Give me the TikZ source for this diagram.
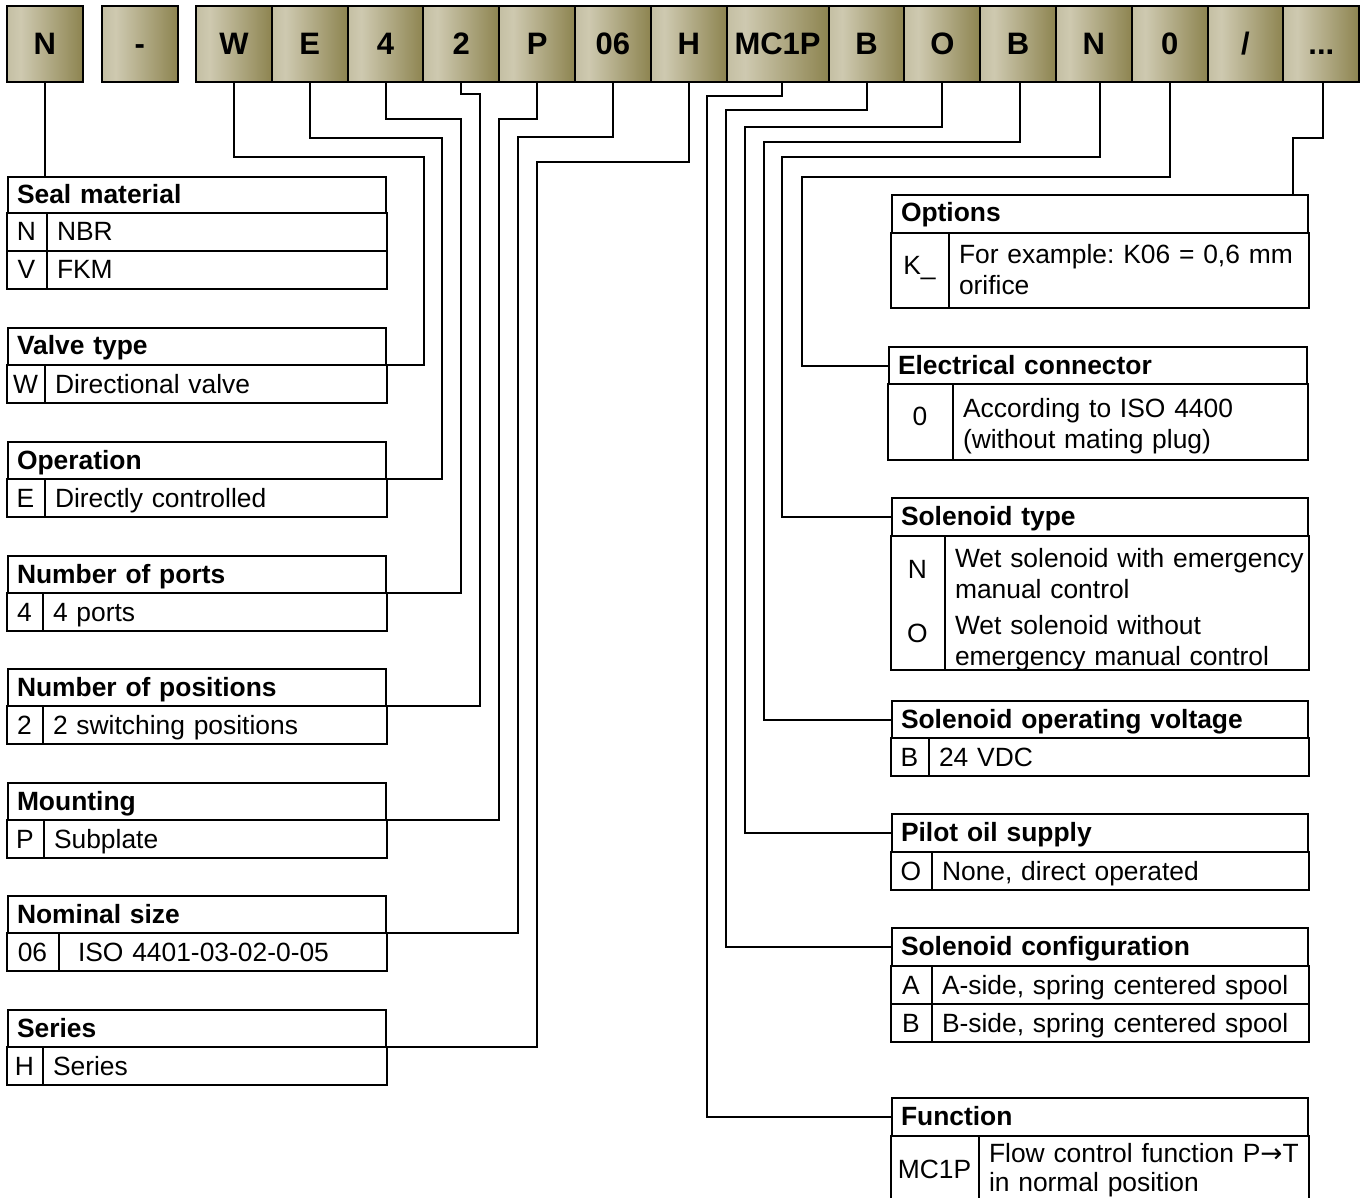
\documentclass[tikz,border=0pt]{standalone}
\usepackage{fontspec}
\setmainfont{Liberation Sans}
\newfontfamily\arrowfont{DejaVu Sans}
\usepackage{tikz}
\usetikzlibrary{positioning, shapes.multipart}

\definecolor{khakiL}{RGB}{196,191,163}
\definecolor{khakiM}{RGB}{206,201,176}
\definecolor{khakiD}{RGB}{141,132,80}
\pgfdeclarehorizontalshading{codeshade}{100bp}{color(0bp)=(khakiL); color(25bp)=(khakiL); color(34bp)=(khakiM); color(75bp)=(khakiD); color(100bp)=(khakiD)}

\newcommand{\codefont}{\fontsize{31}{31}\selectfont\bfseries}
\newcommand{\tabfont}{\fontsize{26.4}{31}\selectfont\frenchspacing}
% centred key letter, strut for one-line rows
\newcommand{\key}[1]{\hbox to\hsize{\hss#1\hss}}
\newcommand{\rowstrut}{\rule[-10pt]{0pt}{38pt}}

\begin{document}
\begin{tikzpicture}[
  x=1pt, y=-1pt,
  line width=2pt,
  codebox/.style={
    draw,
    shade,
    shading=codeshade,
    minimum width=#1,
    minimum height=76pt,
    inner sep=0pt,
    outer sep=0pt,
    text height=22pt,
    text depth=0pt,
    font=\codefont
    },
  codebox/.default=75.8pt,
  headbox/.style={
    draw,
    anchor=north west,
    outer sep=0pt,
    inner xsep=9pt,
    inner ysep=0pt,
    text width=#1,
    text height=27pt,
    text depth=10pt,
    font=\tabfont\bfseries
    },
  headbox/.default=360pt,
  rowbox/.style={
    draw,
    rectangle split,
    rectangle split horizontal,
    rectangle split parts=2,
    outer sep=0pt,
    inner xsep=9pt,
    inner ysep=0pt,
    text height=28pt,
    text depth=10pt,
    font=\tabfont
    }
]
\useasboundingbox (0,0) rectangle (1363,1198);

% type code
\node[codebox, anchor=north west] (bN) at (7,6) {N};
\node[codebox, anchor=north west] (bdash) at (102,6) {-};
\node[codebox, anchor=north west] (bW) at (196,6) {W};
\node[codebox, right=0pt of bW] (bE) {E};
\node[codebox, right=0pt of bE] (b4) {4};
\node[codebox, right=0pt of b4] (b2) {2};
\node[codebox, right=0pt of b2] (bP) {P};
\node[codebox, right=0pt of bP] (b06) {06};
\node[codebox, right=0pt of b06] (bH) {H};
\node[codebox=102pt, right=0pt of bH] (bMC) {MC1P};
\node[codebox, right=0pt of bMC] (bB) {B};
\node[codebox, right=0pt of bB] (bO) {O};
\node[codebox, right=0pt of bO] (bBv) {B};
\node[codebox, right=0pt of bBv] (bNs) {N};
\node[codebox, right=0pt of bNs] (b0) {0};
\node[codebox, right=0pt of b0] (bslash) {/};
\node[codebox, right=0pt of bslash] (bdots) {...};

% left tables
\node[headbox, text depth=9pt] (sealhdr) at (8,177) {Seal material};
\node[rowbox, below=0pt of sealhdr] (sealrowA)
  {
  \nodepart[text width=21pt]{one}\key{N}
  \nodepart[text width=321pt]{two}\rowstrut NBR
  };
\node[rowbox, below=0pt of sealrowA] (sealrowB)
  {
  \nodepart[text width=21pt]{one}\key{V}
  \nodepart[text width=321pt]{two}\rowstrut FKM
  };

\node[headbox] (valvehdr) at (8,328) {Valve type};
\node[rowbox, below=0pt of valvehdr] (valverow)
  {
  \nodepart[text width=19pt]{one}\key{W}
  \nodepart[text width=323pt]{two}\rowstrut Directional valve
  };

\node[headbox] (ophdr) at (8,442) {Operation};
\node[rowbox, below=0pt of ophdr] (oprow)
  {
  \nodepart[text width=19pt]{one}\key{E}
  \nodepart[text width=323pt]{two}\rowstrut Directly controlled
  };

\node[headbox] (portshdr) at (8,556) {Number of ports};
\node[rowbox, below=0pt of portshdr] (portsrow)
  {
  \nodepart[text width=17pt]{one}\key{4}
  \nodepart[text width=325pt]{two}\rowstrut 4 ports
  };

\node[headbox] (poshdr) at (8,669) {Number of positions};
\node[rowbox, below=0pt of poshdr] (posrow)
  {
  \nodepart[text width=17pt]{one}\key{2}
  \nodepart[text width=325pt]{two}\rowstrut 2 switching positions
  };

\node[headbox] (mounthdr) at (8,783) {Mounting};
\node[rowbox, below=0pt of mounthdr] (mountrow)
  {
  \nodepart[text width=18pt]{one}\key{P}
  \nodepart[text width=324pt]{two}\rowstrut Subplate
  };

\node[headbox] (sizehdr) at (8,896) {Nominal size};
\node[rowbox, below=0pt of sizehdr] (sizerow)
  {
  \nodepart[text width=33pt]{one}\key{06}
  \nodepart[text width=309pt]{two}\rowstrut\hspace*{9pt}ISO 4401-03-02-0-05
  };

\node[headbox] (serieshdr) at (8,1010) {Series};
\node[rowbox, below=0pt of serieshdr] (seriesrow)
  {
  \nodepart[text width=17pt]{one}\key{H}
  \nodepart[text width=325pt]{two}\rowstrut Series
  };

% right tables
\node[headbox=398pt, text depth=11pt] (opthdr) at (892,195) {Options};
\node[rowbox, below=0pt of opthdr, text height=31pt, text depth=44pt] (optrow)
  {
  \nodepart[text width=39pt]{one}\key{\raisebox{-11pt}{K\_}}
  \nodepart[text width=341pt]{two}\rule{0pt}{31pt}For example: K06 = 0,6 mm\\orifice\rule[-13pt]{0pt}{13pt}
  };

\node[headbox=400pt] (elechdr) at (889,347) {Electrical connector};
\node[rowbox, below=0pt of elechdr, text height=33pt, text depth=43pt] (elecrow)
  {
  \nodepart[text width=46pt]{one}\key{\raisebox{-9pt}{0}}
  \nodepart[text width=336pt]{two}\rule{0pt}{33pt}According to ISO 4400\\(without mating plug)\rule[-12pt]{0pt}{12pt}
  };

\node[headbox=398pt, text depth=11pt] (solhdr) at (892,498) {Solenoid type};
\node[rowbox, below=0pt of solhdr, text height=31pt, text depth=102pt] (solrow)
  {
  \nodepart[text width=35pt]{one}\key{\raisebox{-11pt}{N}}\\[44pt]\key{O}
  \nodepart[text width=345pt]{two}\rule{0pt}{31pt}\mbox{Wet solenoid with emergency}\\manual control\\[5pt]Wet solenoid without\\emergency manual control\rule[-4pt]{0pt}{4pt}
  };

\node[headbox=398pt] (volthdr) at (892,701) {Solenoid operating voltage};
\node[rowbox, below=0pt of volthdr] (voltrow)
  {
  \nodepart[text width=19pt]{one}\key{B}
  \nodepart[text width=361pt]{two}\rowstrut 24 VDC
  };

\node[headbox=398pt, text depth=11pt] (pilothdr) at (892,814) {Pilot oil supply};
\node[rowbox, below=0pt of pilothdr] (pilotrow)
  {
  \nodepart[text width=22pt]{one}\key{O}
  \nodepart[text width=358pt]{two}\rowstrut None, direct operated
  };

\node[headbox=398pt, text depth=11pt] (confhdr) at (892,928) {Solenoid configuration};
\node[rowbox, below=0pt of confhdr] (confrowA)
  {
  \nodepart[text width=22pt]{one}\key{A}
  \nodepart[text width=358pt]{two}\rowstrut A-side, spring centered spool
  };
\node[rowbox, below=0pt of confrowA] (confrowB)
  {
  \nodepart[text width=22pt]{one}\key{B}
  \nodepart[text width=358pt]{two}\rowstrut B-side, spring centered spool
  };

\node[headbox=398pt, text depth=11pt] (funchdr) at (892,1098) {Function};
\node[rowbox, below=0pt of funchdr, text height=26pt, text depth=49pt] (funcrow)
  {
  \nodepart[text width=69pt]{one}\key{\raisebox{-16pt}{MC1P}}
  \nodepart[text width=311pt]{two}\rule{0pt}{26pt}\mbox{Flow control function P{\arrowfont →}T}\\[-2pt]in normal position\rule[-20pt]{0pt}{20pt}
  };

% connectors
\coordinate (optbend) at (1293,138);
\draw (bN.south) -- (bN.south |- sealhdr.north);
\draw (bW.south) |- (424,157) |- (valverow.north east);
\draw (bE.south) |- (442,138) |- (oprow.north east);
\draw (b4.south) |- (461,119) |- (portsrow.north east);
\draw (b2.south) |- (480,94) |- (posrow.north east);
\draw (bP.south) |- (499,119) |- (mountrow.north east);
\draw (b06.south) |- (518,137) |- (sizerow.north east);
\draw (bH.south) |- (537,162) |- (seriesrow.north east);
\draw ([xshift=4pt]bMC.south) |- (707,96) |- (funchdr.west);
\draw (bB.south) |- (726,110) |- (confhdr.west);
\draw (bO.south) |- (745,127) |- (pilothdr.west);
\draw ([xshift=2pt]bBv.south) |- (764,142) |- (volthdr.west);
\draw ([xshift=6pt]bNs.south) |- (782,157) |- (solhdr.west);
\draw (b0.south) |- (802,177) |- (elechdr.west);
\draw ([xshift=2pt]bdots.south) |- (optbend) -- (optbend |- opthdr.north);

\end{tikzpicture}
\end{document}
